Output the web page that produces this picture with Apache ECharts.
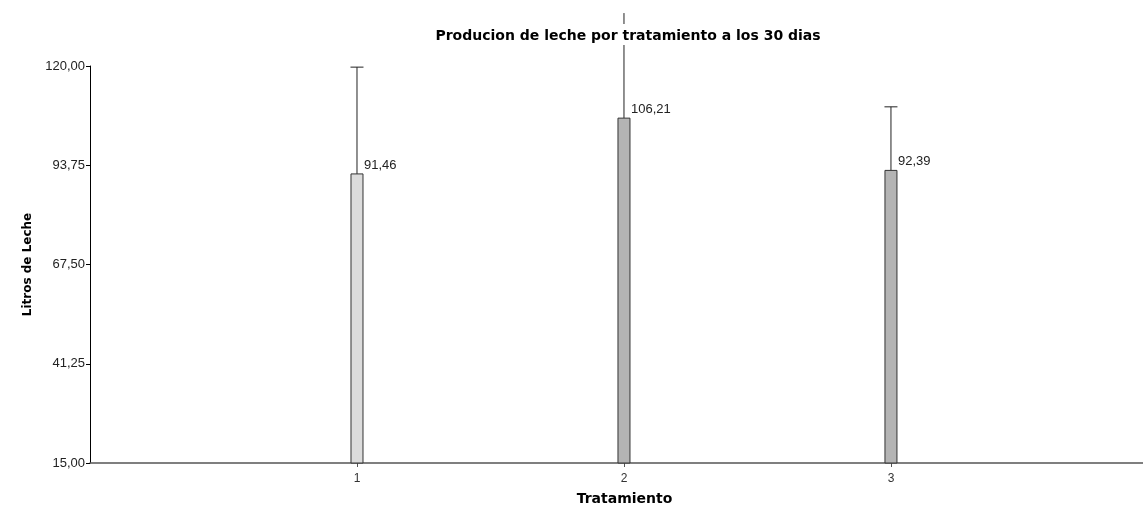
<!DOCTYPE html>
<html>
<head>
<meta charset="utf-8">
<script src="https://cdn.jsdelivr.net/npm/echarts@6/dist/echarts.min.js"></script>
<style>
  html, body { margin: 0; padding: 0; background: #fff; }
  #chart { width: 1143px; height: 512px; }
</style>
</head>
<body>
<div id="chart"></div>
<script>
// Treatment categories and their mean milk yield (litres) at 30 days
const categories = ['1', '2', '3'];
const means = [91.46, 106.21, 92.39];
// Upper end of each error bar
const upperErr = [119.7, 134.0, 109.2];
const yTicks = [15, 41.25, 67.5, 93.75, 120];

const barFills = ['#dcdcdc', '#b4b4b4', '#b4b4b4'];

const fmt = v => v.toFixed(2).replace('.', ',');

const Y_MIN = yTicks[0], Y_MAX = yTicks[yTicks.length - 1];
const BOLD_FONT = '"DejaVu Sans", Verdana, sans-serif';

const chart = echarts.init(document.getElementById('chart'), null, { renderer: 'canvas' });

const seriesData = categories.map((c, i) => [i + 1, means[i], upperErr[i], i]);

chart.setOption({
  animation: false,
  backgroundColor: '#fff',
  title: {
    text: 'Producion de leche por tratamiento a los 30 dias',
    left: 624,
    textAlign: 'center',
    top: 24,
    padding: [5, 4, 2, 4],
    backgroundColor: '#fff',
    textStyle: { fontFamily: BOLD_FONT, fontWeight: 'bold', fontSize: 14, color: '#000' }
  },
  grid: { left: 90, right: 0, top: 66, bottom: 49, containLabel: false },
  xAxis: {
    type: 'value',
    min: 0,
    max: 3.944,
    interval: 1,
    name: 'Tratamiento',
    nameLocation: 'middle',
    nameGap: 29,
    nameTextStyle: { fontFamily: BOLD_FONT, fontWeight: 'bold', fontSize: 14, color: '#000', padding: [0, 0, 0, 16] },
    splitLine: { show: false },
    axisLine: { lineStyle: { color: '#555', width: 1.5 } },
    axisTick: {
      show: true, length: 4, lineStyle: { color: '#555' },
      customValues: [1, 2, 3]
    },
    axisLabel: {
      color: '#333', fontFamily: 'Liberation Sans, Arial', fontSize: 12, margin: 10,
      customValues: [1, 2, 3],
      formatter: v => categories[v - 1] || ''
    }
  },
  yAxis: {
    type: 'value',
    min: Y_MIN,
    max: Y_MAX,
    interval: 26.25,
    name: 'Litros de Leche',
    nameLocation: 'middle',
    nameGap: 53,
    nameRotate: 90,
    nameTextStyle: { fontFamily: BOLD_FONT, fontWeight: 'bold', fontSize: 12, color: '#000' },
    splitLine: { show: false },
    axisLine: { show: true, lineStyle: { color: '#000', width: 1 } },
    axisTick: { show: true, length: 4, lineStyle: { color: '#000' } },
    axisLabel: {
      color: '#222', fontFamily: 'Liberation Sans, Arial', fontSize: 13, margin: 5,
      formatter: v => fmt(v)
    }
  },
  series: [{
    type: 'custom',
    clip: false,
    data: seriesData,
    renderItem: (params, api) => {
      const x = api.value(0);
      const mean = api.value(1);
      const up = api.value(2);
      const idx = api.value(3);
      const base = api.coord([x, Y_MIN]);
      const top = api.coord([x, mean]);
      const errTop = api.coord([x, up]);
      const half = 6;
      const children = [
        {
          type: 'line',
          shape: { x1: top[0], y1: top[1], x2: errTop[0], y2: errTop[1] },
          style: { stroke: '#222', lineWidth: 1 }
        },
        {
          type: 'rect',
          shape: { x: base[0] - half, y: top[1], width: half * 2, height: base[1] - top[1] },
          style: { fill: barFills[idx], stroke: '#333', lineWidth: 1 }
        },
        {
          type: 'text',
          style: {
            text: fmt(mean), x: top[0] + half + 1, y: top[1] - 2,
            textAlign: 'left', textVerticalAlign: 'bottom',
            font: '13px "Liberation Sans", Arial', fill: '#222'
          }
        }
      ];
      // Cap only when the upper end lies inside the plotted range
      if (up <= Y_MAX) {
        children.push({
          type: 'line',
          shape: { x1: errTop[0] - 6.5, y1: errTop[1], x2: errTop[0] + 6.5, y2: errTop[1] },
          style: { stroke: '#222', lineWidth: 1 }
        });
      }
      return { type: 'group', children };
    }
  }]
});
</script>
</body>
</html>
